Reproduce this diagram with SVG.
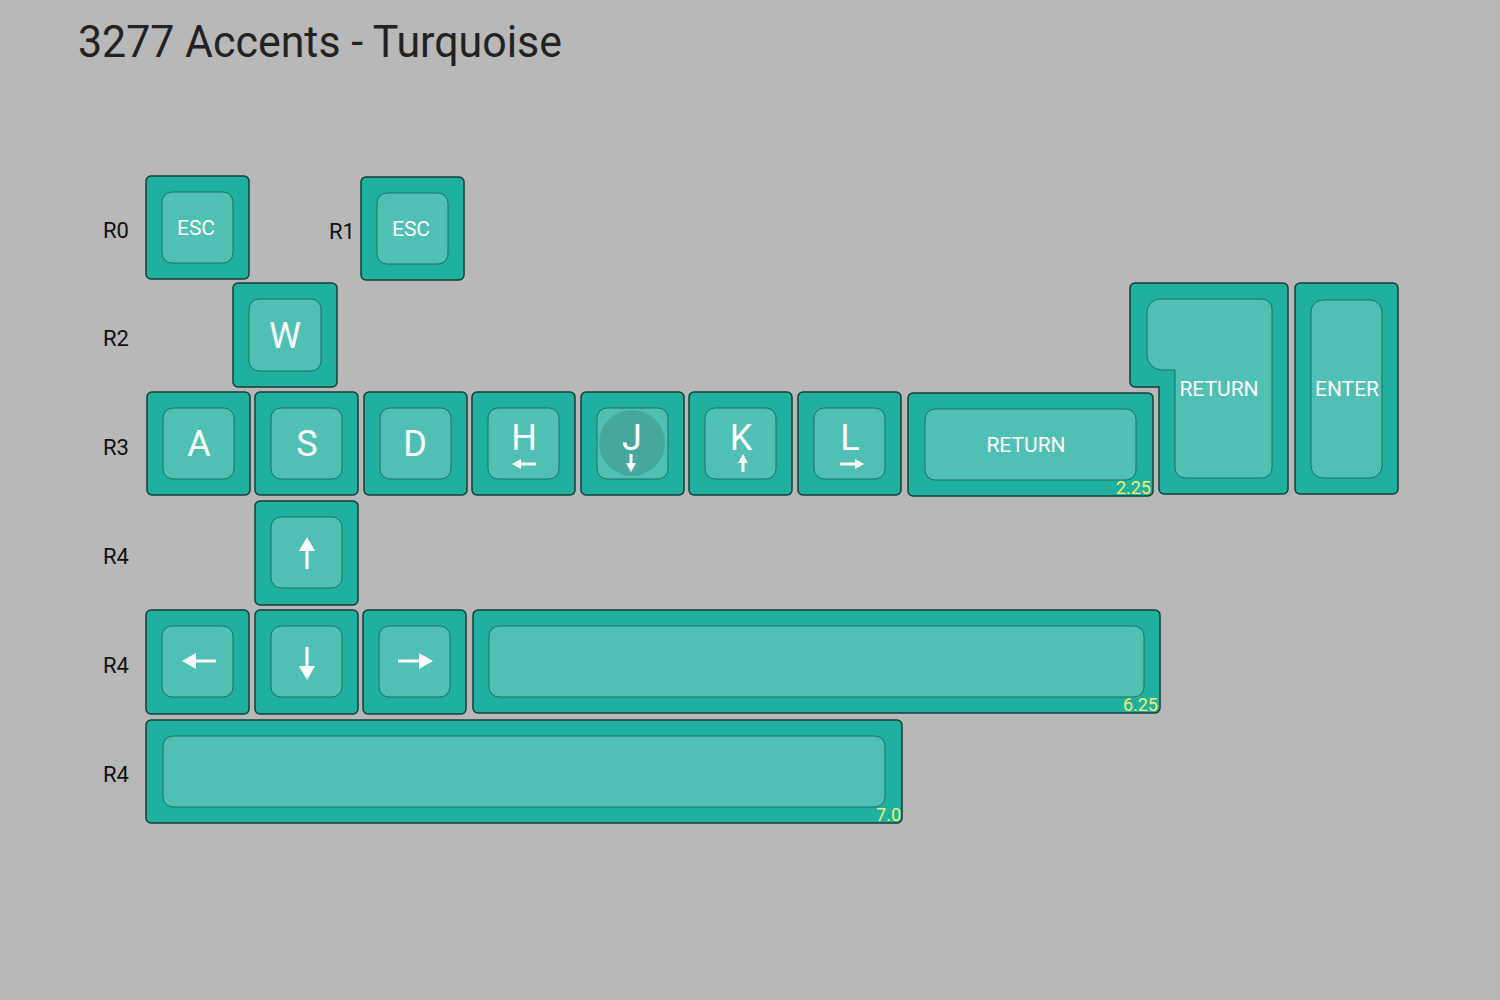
<svg xmlns="http://www.w3.org/2000/svg" width="1500" height="1000" viewBox="0 0 1500 1000">
<style>
.o{fill:#20b0a0;stroke:#163c38;stroke-width:1.5}
.i{fill:#50c0b4;stroke:#1e6e66;stroke-width:1}
.t{font-family:Roboto,"Liberation Sans",sans-serif;fill:#fff;text-anchor:middle}
.r{font-family:Roboto,"Liberation Sans",sans-serif;fill:#111;font-size:22px;text-anchor:middle}
.s{font-family:Roboto,"Liberation Sans",sans-serif;fill:#f0f070;font-size:18px;text-anchor:end}
.a{stroke:#fff;stroke-width:3;fill:none}
.h{fill:#fff}
</style>
<rect width="1500" height="1000" fill="#b8b8b8"/>
<text x="78" y="57" font-family="Roboto,'Liberation Sans',sans-serif" font-size="44" fill="#222" textLength="484" lengthAdjust="spacingAndGlyphs">3277 Accents - Turquoise</text>
<g id="labels">
<text class="r" x="116" y="238">R0</text><text class="r" x="342" y="239">R1</text>
<text class="r" x="116" y="346">R2</text><text class="r" x="116" y="455">R3</text>
<text class="r" x="116" y="564">R4</text><text class="r" x="116" y="673">R4</text><text class="r" x="116" y="782">R4</text>
</g>
<g id="esc0"><rect class="o" x="146" y="176" width="103" height="103" rx="5"/><rect class="i" x="162" y="192" width="71" height="71" rx="10"/><text class="t" x="196" y="235" font-size="21">ESC</text></g>
<g id="esc1"><rect class="o" x="361" y="177" width="103" height="103" rx="5"/><rect class="i" x="377" y="193" width="71" height="71" rx="10"/><text class="t" x="411" y="236" font-size="21">ESC</text></g>
<g id="w"><rect class="o" x="233" y="283" width="104" height="104" rx="5"/><rect class="i" x="249" y="299" width="72" height="72" rx="10"/><text class="t" x="285" y="348" font-size="36">W</text></g>
<g id="a"><rect class="o" x="147" y="392" width="103" height="103" rx="5"/><rect class="i" x="163" y="408" width="71" height="71" rx="10"/><text class="t" x="199" y="456" font-size="36">A</text></g>
<g id="s"><rect class="o" x="255" y="392" width="103" height="103" rx="5"/><rect class="i" x="271" y="408" width="71" height="71" rx="10"/><text class="t" x="307" y="456" font-size="36">S</text></g>
<g id="d"><rect class="o" x="364" y="392" width="103" height="103" rx="5"/><rect class="i" x="380" y="408" width="71" height="71" rx="10"/><text class="t" x="415" y="456" font-size="36">D</text></g>
<g id="hk"><rect class="o" x="472" y="392" width="103" height="103" rx="5"/><rect class="i" x="488" y="408" width="71" height="71" rx="10"/><text class="t" x="524" y="450" font-size="36">H</text><path class="a" d="M515 464H536"/><path class="h" d="M512 464l9-5v10z"/></g>
<g id="jk"><rect class="o" x="581" y="392" width="103" height="103" rx="5"/><rect class="i" x="597" y="408" width="71" height="71" rx="10"/><circle cx="632" cy="443" r="33" fill="#46a89c"/><text class="t" x="632" y="450" font-size="36">J</text><path class="a" d="M631 454V466"/><path class="h" d="M626 463h10l-5 9z"/></g>
<g id="kk"><rect class="o" x="689" y="392" width="103" height="103" rx="5"/><rect class="i" x="705" y="408" width="71" height="71" rx="10"/><text class="t" x="741" y="450" font-size="36">K</text><path class="a" d="M743 460V472"/><path class="h" d="M738 463h10l-5-9z"/></g>
<g id="lk"><rect class="o" x="798" y="392" width="103" height="103" rx="5"/><rect class="i" x="814" y="408" width="71" height="71" rx="10"/><text class="t" x="850" y="450" font-size="36">L</text><path class="a" d="M840 464H858"/><path class="h" d="M864 464l-9-5v10z"/></g>
<g id="ret225"><rect class="o" x="908" y="393" width="245" height="103" rx="5"/><rect class="i" x="925" y="409" width="211" height="71" rx="10"/><text class="t" x="1026" y="452" font-size="21">RETURN</text><text class="s" x="1151" y="494">2.25</text></g>
<g id="isoret"><path class="o" d="M1135 283H1283a5 5 0 0 1 5 5V489a5 5 0 0 1-5 5H1164a5 5 0 0 1-5-5V387H1135a5 5 0 0 1-5-5V288a5 5 0 0 1 5-5z"/><path class="i" d="M1160 299H1262a10 10 0 0 1 10 10V468a10 10 0 0 1-10 10H1185a10 10 0 0 1-10-10V370H1162a15 15 0 0 1-15-15V312a13 13 0 0 1 13-13z"/><text class="t" x="1219" y="396" font-size="21">RETURN</text></g>
<g id="enter"><rect class="o" x="1295" y="283" width="103" height="211" rx="5"/><rect class="i" x="1311" y="300" width="71" height="178" rx="12"/><text class="t" x="1347" y="396" font-size="21">ENTER</text></g>
<g id="up"><rect class="o" x="255" y="501" width="103" height="104" rx="5"/><rect class="i" x="271" y="517" width="71" height="71" rx="10"/><path class="a" d="M307 545V569"/><path class="h" d="M299 551h16l-8-14z"/></g>
<g id="left"><rect class="o" x="146" y="610" width="103" height="104" rx="5"/><rect class="i" x="162" y="626" width="71" height="71" rx="10"/><path class="a" d="M190 661H216"/><path class="h" d="M182 661l14-8v16z"/></g>
<g id="down"><rect class="o" x="255" y="610" width="103" height="104" rx="5"/><rect class="i" x="271" y="626" width="71" height="71" rx="10"/><path class="a" d="M307 647V672"/><path class="h" d="M299 666h16l-8 14z"/></g>
<g id="right"><rect class="o" x="363" y="610" width="103" height="104" rx="5"/><rect class="i" x="379" y="626" width="71" height="71" rx="10"/><path class="a" d="M398 661H424"/><path class="h" d="M433 661l-14-8v16z"/></g>
<g id="sp625"><rect class="o" x="473" y="610" width="687" height="103" rx="5"/><rect class="i" x="489" y="626" width="655" height="71" rx="10"/><text class="s" x="1158" y="711">6.25</text></g>
<g id="sp7"><rect class="o" x="146" y="720" width="756" height="103" rx="5"/><rect class="i" x="163" y="736" width="722" height="71" rx="10"/><text class="s" x="901" y="821">7.0</text></g>
</svg>
